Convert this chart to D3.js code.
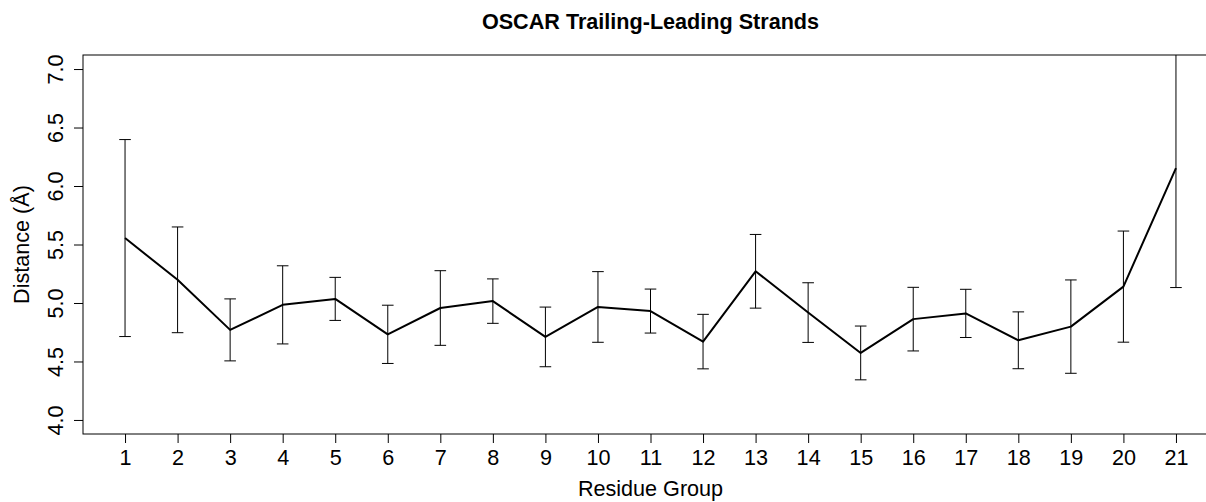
<!DOCTYPE html>
<html>
<head>
<meta charset="utf-8">
<title>OSCAR Trailing-Leading Strands</title>
<script src="https://cdn.jsdelivr.net/npm/d3@7"></script>
<style>
    html, body { margin: 0; padding: 0; background: #fff; }
    svg text { font-family: "Liberation Sans", Arial, sans-serif; fill: #000; }
</style>
</head>
<body>
<div class="chart"></div>
<script>
var groups = [1, 2, 3, 4, 5, 6, 7, 8, 9, 10, 11, 12, 13, 14, 15, 16, 17, 18, 19, 20, 21];
var means = [5.555, 5.198, 4.770, 4.984, 5.035, 4.732, 4.957, 5.016, 4.710, 4.966, 4.931,
    4.670, 5.271, 4.918, 4.573, 4.862, 4.911, 4.681, 4.798, 5.140, 6.153];
var sds = [0.842, 0.452, 0.265, 0.334, 0.184, 0.249, 0.319, 0.190, 0.255, 0.302, 0.188,
    0.233, 0.315, 0.255, 0.230, 0.272, 0.206, 0.243, 0.399, 0.475, 1.021];
var yTicks = [4.0, 4.5, 5.0, 5.5, 6.0, 6.5, 7.0];

(function (d3) {
    'use strict';

    var width = 1206,
        height = 502,
        left = 83, top = 55, right = 1218, bottom = 434,
        capHalf = 5.8,
        fontSize = '21.6px';

    // R style axis limits: 4% padding on each side
    var x = d3.scaleLinear().domain([0.2, 21.8]).range([left, right]);
    var y = d3.scaleLinear().domain([3.88, 7.12]).range([bottom, top]);

    var rows = groups.map(function (g, i) {
        return { g: g, m: means[i], lo: means[i] - sds[i], hi: means[i] + sds[i] };
    });

    var svg = d3.select('.chart').append('svg')
        .attr('width', width)
        .attr('height', height)
        .attr('viewBox', '0 0 ' + width + ' ' + height);

    svg.append('clipPath').attr('id', 'plot-clip')
        .append('rect')
        .attr('x', x.range()[0]).attr('y', y.range()[1])
        .attr('width', x.range()[1] - x.range()[0])
        .attr('height', y.range()[0] - y.range()[1]);

    var plot = svg.append('g').attr('clip-path', 'url(#plot-clip)');

    // error bars
    var bars = plot.selectAll('g.err')
        .data(rows)
        .enter().append('g')
        .attr('class', 'err')
        .attr('stroke', '#000')
        .attr('stroke-width', 1);

    bars.append('line')
        .attr('x1', function (d) { return x(d.g); })
        .attr('x2', function (d) { return x(d.g); })
        .attr('y1', function (d) { return y(d.lo); })
        .attr('y2', function (d) { return y(d.hi); });

    bars.append('line')
        .attr('x1', function (d) { return x(d.g) - capHalf; })
        .attr('x2', function (d) { return x(d.g) + capHalf; })
        .attr('y1', function (d) { return y(d.hi); })
        .attr('y2', function (d) { return y(d.hi); });

    bars.append('line')
        .attr('x1', function (d) { return x(d.g) - capHalf; })
        .attr('x2', function (d) { return x(d.g) + capHalf; })
        .attr('y1', function (d) { return y(d.lo); })
        .attr('y2', function (d) { return y(d.lo); });

    // mean line
    plot.append('path')
        .datum(rows)
        .attr('fill', 'none')
        .attr('stroke', '#000')
        .attr('stroke-width', 2)
        .attr('stroke-linejoin', 'round')
        .attr('d', d3.line()
            .x(function (d) { return x(d.g); })
            .y(function (d) { return y(d.m); }));

    // box
    svg.append('rect')
        .attr('x', x.range()[0]).attr('y', y.range()[1])
        .attr('width', x.range()[1] - x.range()[0])
        .attr('height', y.range()[0] - y.range()[1])
        .attr('fill', 'none')
        .attr('stroke', '#000')
        .attr('stroke-width', 1);

    var xAxis = svg.append('g')
        .attr('transform', 'translate(0,' + bottom + ')')
        .call(d3.axisBottom(x).tickValues(groups).tickSize(9).tickPadding(7)
            .tickFormat(d3.format('d')));

    var yAxis = svg.append('g')
        .attr('transform', 'translate(' + left + ',0)')
        .call(d3.axisLeft(y).tickValues(yTicks).tickSize(9).tickFormat(d3.format('.1f')));

    [xAxis, yAxis].forEach(function (ax) {
        ax.select('.domain').remove();
        ax.selectAll('line').attr('stroke', '#000');
        ax.selectAll('text')
            .attr('font-family', null)
            .style('font-size', fontSize);
    });

    xAxis.selectAll('text').attr('dy', '0.71em');

    // rotated y tick labels, like R's las=0
    yAxis.selectAll('.tick text')
        .attr('x', null).attr('dy', null)
        .attr('text-anchor', 'middle')
        .attr('transform', 'translate(-20,0) rotate(-90)');

    svg.append('text')
        .attr('x', (left + right) / 2)
        .attr('y', 29)
        .attr('text-anchor', 'middle')
        .style('font-size', fontSize)
        .style('font-weight', 'bold')
        .text('OSCAR Trailing-Leading Strands');

    // kept just inside the bottom edge so the descenders are not cut
    svg.append('text')
        .attr('x', (left + right) / 2)
        .attr('y', 496)
        .attr('text-anchor', 'middle')
        .style('font-size', fontSize)
        .text('Residue Group');

    svg.append('text')
        .attr('transform', 'translate(29,' + (top + bottom) / 2 + ') rotate(-90)')
        .attr('text-anchor', 'middle')
        .style('font-size', fontSize)
        .text('Distance (Å)');
})(d3);
</script>
</body>
</html>
